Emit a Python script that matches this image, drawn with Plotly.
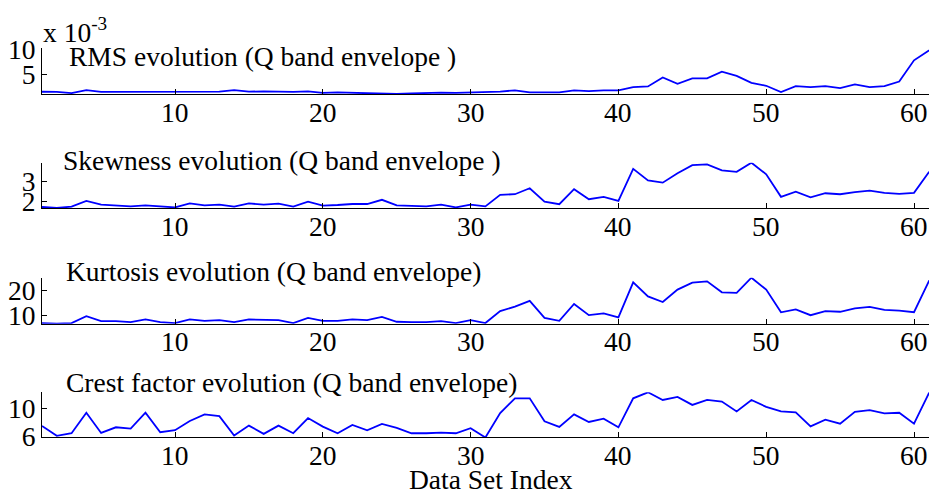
import plotly.graph_objects as go

# ---------------- data ----------------
data_index = list(range(1, 63))

rms_x1e3 = [1.73, 1.70, 1.47, 2.05, 1.70, 1.70, 1.70, 1.70, 1.75, 1.73,
            1.75, 1.70, 1.75, 2.05, 1.75, 1.80, 1.75, 1.70, 1.80, 1.50,
            1.60, 1.50, 1.50, 1.40, 1.29, 1.40, 1.50, 1.55, 1.50, 1.60,
            1.65, 1.75, 2.00, 1.60, 1.60, 1.60, 2.00, 1.85, 2.00, 2.00,
            2.63, 2.75, 4.50, 3.27, 4.30, 4.30, 5.60, 4.80, 3.46, 2.88,
            1.67, 2.80, 2.63, 2.80, 2.44, 3.14, 2.63, 2.80, 3.70, 7.80,
            9.67, 10.4]

skewness = [1.72, 1.67, 1.74, 2.03, 1.84, 1.80, 1.75, 1.80, 1.75, 1.70,
            1.90, 1.80, 1.84, 1.74, 1.90, 1.84, 1.89, 1.74, 1.99, 1.79,
            1.82, 1.87, 1.87, 2.08, 1.80, 1.77, 1.75, 1.84, 1.70, 1.84,
            1.75, 2.33, 2.36, 2.66, 1.99, 1.86, 2.61, 2.11, 2.23, 2.03,
            3.63, 3.05, 2.94, 3.41, 3.82, 3.86, 3.56, 3.48, 3.94, 3.36,
            2.23, 2.49, 2.20, 2.41, 2.36, 2.46, 2.54, 2.43, 2.38, 2.43,
            3.46, 3.20]

kurtosis = [6.76, 6.50, 6.76, 9.60, 7.57, 7.57, 7.17, 8.24, 7.17, 6.76,
            8.24, 7.70, 7.97, 7.17, 8.24, 7.97, 7.97, 6.76, 8.90, 7.70,
            7.70, 8.24, 7.97, 9.30, 7.30, 7.17, 7.17, 7.57, 6.76, 7.97,
            6.76, 11.7, 13.5, 15.9, 8.90, 7.70, 14.6, 10.0, 10.7, 9.10,
            23.5, 17.7, 15.4, 20.5, 23.4, 23.9, 19.4, 19.2, 25.4, 20.5,
            11.2, 12.4, 10.0, 11.7, 11.4, 12.8, 13.4, 12.2, 11.9, 11.2,
            23.9, 19.0]

crest_factor = [7.55, 6.14, 6.51, 9.44, 6.55, 7.36, 7.17, 9.44, 6.65, 6.94,
                8.26, 9.20, 8.96, 6.19, 7.60, 6.42, 7.60, 6.51, 8.68, 7.46,
                6.51, 7.69, 6.94, 7.83, 7.27, 6.51, 6.51, 6.60, 6.51, 7.22,
                5.90, 9.39, 11.5, 11.5, 8.21, 7.41, 9.20, 8.12, 8.59, 7.36,
                11.5, 12.36, 11.27, 11.7, 10.56, 11.27, 11.03, 9.62, 11.27, 10.28,
                9.62, 9.48, 7.50, 8.45, 7.88, 9.57, 9.81, 9.34, 9.44, 7.88,
                12.2, 9.90]

x_tick_vals = [10, 20, 30, 40, 50, 60]
x_tick_text = ["10", "20", "30", "40", "50", "60"]

panel_titles = ["RMS evolution (Q band envelope )",
                "Skewness evolution (Q band envelope )",
                "Kurtosis evolution (Q band envelope)",
                "Crest factor evolution (Q band envelope)"]
panel_series = [rms_x1e3, skewness, kurtosis, crest_factor]
panel_yticks = [[5, 10], [2, 3], [10, 20], [6, 10]]
x_label = "Data Set Index"
exponent_label = "x 10<sup>-3</sup>"

# ---------------- layout geometry ----------------
# the page body has an 8px margin, so work in window pixels and shift
OFF = 8
WIN_W, WIN_H = 937, 497
W, H = WIN_W - OFF, WIN_H - OFF
AXIS_X = 41.7                     # window px of the y-axis line
L, R = AXIS_X - OFF, 0
FONT = "Liberation Serif"
FS = 27.5
# window-pixel top/bottom of each plot area
panel_px = [(48.3, 94.0), (162.7, 208.0), (277.7, 323.7), (392.3, 437.3)]
y_ranges = [[1.29, 10.13], [1.67, 3.94], [6.5, 25.4], [5.93, 12.36]]
title_pos = [(67, 57), (61, 160), (64, 271), (64, 382)]
XLABEL_GAP = 18                   # px from axis line to x tick-label centre
px_per_unit = (914 - AXIS_X) / 59.0
x_range = [1, 1 + (WIN_W - AXIS_X) / px_per_unit]


def px_x(p):
    return (p - OFF - L) / (W - L - R)


def px_y(p):
    return 1 - (p - OFF) / H


fig = go.Figure()
layout = dict(
    width=W, height=H,
    margin=dict(l=L, r=R, t=0, b=0, pad=0),
    paper_bgcolor="white", plot_bgcolor="white",
    showlegend=False,
    font=dict(family=FONT, size=FS, color="black"),
)

annotations = []
for i, (series, (top, bot), yr, yt, title, (tx, ty)) in enumerate(
        zip(panel_series, panel_px, y_ranges, panel_yticks, panel_titles, title_pos)):
    n = i + 1
    xa = "x" if n == 1 else f"x{n}"
    ya = "y" if n == 1 else f"y{n}"
    fig.add_trace(go.Scatter(x=data_index, y=series, mode="lines",
                             line=dict(color="#0000ff", width=1.8),
                             xaxis=xa, yaxis=ya, hoverinfo="skip"))
    xkey = "xaxis" if n == 1 else f"xaxis{n}"
    ykey = "yaxis" if n == 1 else f"yaxis{n}"
    layout[xkey] = dict(
        domain=[0, 1], anchor=ya, range=x_range,
        showline=True, linecolor="black", linewidth=1,
        showgrid=False, zeroline=False,
        ticks="inside", ticklen=5, tickcolor="black", tickwidth=1,
        tickvals=x_tick_vals, ticktext=x_tick_text,
        showticklabels=False,
        automargin=False,
    )
    layout[ykey] = dict(
        domain=[px_y(bot), px_y(top)], anchor=xa, range=yr,
        showline=True, linecolor="black", linewidth=1,
        showgrid=False, zeroline=False,
        ticks="inside", ticklen=5, tickcolor="black", tickwidth=1,
        tickvals=yt, ticktext=[str(v) for v in yt],
        tickfont=dict(family=FONT, size=FS, color="black"),
        ticklabelstandoff=0,
        automargin=False,
    )
    # x tick labels, placed at the axis' own tick values
    for tv, tt in zip(x_tick_vals, x_tick_text):
        annotations.append(dict(
            text=tt, xref=xa, x=tv, yref="paper", y=px_y(bot + XLABEL_GAP),
            xanchor="center", yanchor="middle", showarrow=False,
            font=dict(family=FONT, size=FS, color="black")))
    annotations.append(dict(
        text=title, xref="paper", yref="paper",
        x=px_x(tx), y=px_y(ty),
        xanchor="left", yanchor="middle", showarrow=False,
        font=dict(family=FONT, size=FS, color="black")))

annotations.append(dict(
    text=exponent_label, xref="paper", yref="paper",
    x=px_x(41), y=px_y(31),
    xanchor="left", yanchor="middle", showarrow=False,
    font=dict(family=FONT, size=FS, color="black")))
annotations.append(dict(
    text=x_label, xref="paper", yref="paper",
    x=px_x(491), y=px_y(479),
    xanchor="center", yanchor="middle", showarrow=False,
    font=dict(family=FONT, size=FS, color="black")))

layout["annotations"] = annotations
fig.update_layout(**layout)
fig.write_html("out.html")
